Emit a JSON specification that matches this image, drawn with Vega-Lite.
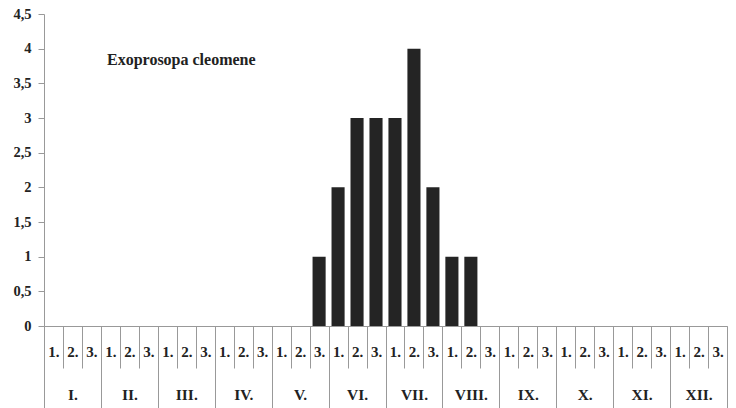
{
  "$schema": "https://vega.github.io/schema/vega-lite/v6.json",
  "width": 683,
  "height": 312,
  "autosize": {"type": "none"},
  "padding": {"left": 44, "top": 14, "right": 9, "bottom": 82},
  "background": "white",
  "config": {"view": {"stroke": null}, "font": "Liberation Serif"},
  "title": {"text": "Exoprosopa cleomene", "anchor": "start", "frame": "group", "font": "Liberation Serif", "fontSize": 16, "fontWeight": "bold", "color": "#222", "dx": 63, "dy": 79, "baseline": "alphabetic"},
  "data": {"values": [
    {"slot": "I.|1.", "n": 0}, {"slot": "I.|2.", "n": 0}, {"slot": "I.|3.", "n": 0},
    {"slot": "II.|1.", "n": 0}, {"slot": "II.|2.", "n": 0}, {"slot": "II.|3.", "n": 0},
    {"slot": "III.|1.", "n": 0}, {"slot": "III.|2.", "n": 0}, {"slot": "III.|3.", "n": 0},
    {"slot": "IV.|1.", "n": 0}, {"slot": "IV.|2.", "n": 0}, {"slot": "IV.|3.", "n": 0},
    {"slot": "V.|1.", "n": 0}, {"slot": "V.|2.", "n": 0}, {"slot": "V.|3.", "n": 1},
    {"slot": "VI.|1.", "n": 2}, {"slot": "VI.|2.", "n": 3}, {"slot": "VI.|3.", "n": 3},
    {"slot": "VII.|1.", "n": 3}, {"slot": "VII.|2.", "n": 4}, {"slot": "VII.|3.", "n": 2},
    {"slot": "VIII.|1.", "n": 1}, {"slot": "VIII.|2.", "n": 1}, {"slot": "VIII.|3.", "n": 0},
    {"slot": "IX.|1.", "n": 0}, {"slot": "IX.|2.", "n": 0}, {"slot": "IX.|3.", "n": 0},
    {"slot": "X.|1.", "n": 0}, {"slot": "X.|2.", "n": 0}, {"slot": "X.|3.", "n": 0},
    {"slot": "XI.|1.", "n": 0}, {"slot": "XI.|2.", "n": 0}, {"slot": "XI.|3.", "n": 0},
    {"slot": "XII.|1.", "n": 0}, {"slot": "XII.|2.", "n": 0}, {"slot": "XII.|3.", "n": 0}
  ]},
  "layer": [
    {
      "mark": {"type": "bar", "color": "#242424", "width": {"band": 0.69}},
      "encoding": {
        "x": {
          "field": "slot", "type": "nominal", "sort": null,
          "scale": {"paddingInner": 0, "paddingOuter": 0},
          "axis": {
            "title": null, "orient": "bottom", "tickBand": "extent", "tickSize": 42, "tickColor": "#999",
            "domain": true, "domainWidth": 1, "domainColor": "#999", "labelExpr": "split(datum.value,'|')[1]", "labelAngle": 0,
            "labelBaseline": "middle", "labelPadding": -17, "labelFont": "Liberation Serif",
            "labelFontSize": 15, "labelFontWeight": "bold", "labelColor": "#222", "labelOverlap": false
          }
        },
        "y": {
          "field": "n", "type": "quantitative",
          "scale": {"domain": [0, 4.5], "nice": false},
          "axis": {
            "title": null, "values": [0, 0.5, 1, 1.5, 2, 2.5, 3, 3.5, 4, 4.5],
            "labelExpr": "replace(format(datum.value,'~g'),'.',',')", "grid": false,
            "tickSize": 6, "tickColor": "#999", "domainColor": "#999", "labelPadding": 7,
            "labelFont": "Liberation Serif", "labelFontSize": 14.5, "labelFontWeight": "bold", "labelColor": "#222"
          }
        }
      }
    },
    {
      "mark": {"type": "bar", "opacity": 0},
      "encoding": {
        "x": {
          "field": "slot", "type": "nominal", "sort": null,
          "axis": {
            "title": null, "orient": "bottom", "tickBand": "extent", "tickSize": 82, "tickColor": "#999",
            "tickOpacity": {"condition": {"test": "datum.extra || indexof(datum.value, '|3.') >= 0", "value": 1}, "value": 0},
            "domain": false, "labelExpr": "split(datum.value,'|')[1] == '2.' ? split(datum.value,'|')[0] : ''",
            "labelAngle": 0, "labelBaseline": "middle", "labelPadding": -14, "labelFont": "Liberation Serif",
            "labelFontSize": 15.5, "labelFontWeight": "bold", "labelColor": "#222", "labelOverlap": false
          }
        },
        "y": {
          "field": "n", "type": "quantitative",
          "axis": {
            "title": null, "values": [0, 0.5, 1, 1.5, 2, 2.5, 3, 3.5, 4, 4.5],
            "labelExpr": "replace(format(datum.value,'~g'),'.',',')", "grid": false,
            "tickSize": 6, "tickColor": "#999", "domainColor": "#999", "labelPadding": 7,
            "labelFont": "Liberation Serif", "labelFontSize": 14.5, "labelFontWeight": "bold", "labelColor": "#222"
          }
        }
      }
    }
  ],
  "resolve": {"axis": {"x": "independent"}}
}
